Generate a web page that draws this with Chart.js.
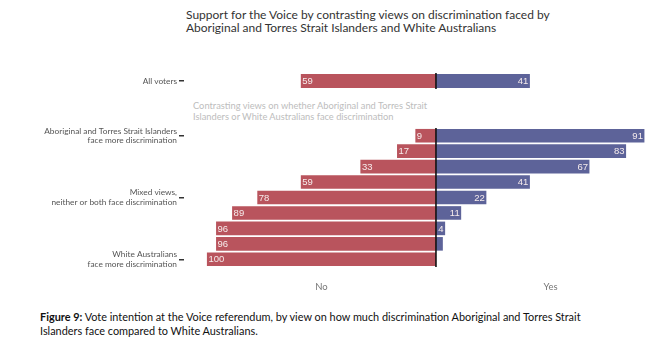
<!DOCTYPE html>
<html>
<head>
<meta charset="utf-8">
<script src="https://cdn.jsdelivr.net/npm/chart.js@4"></script>
<style>
    body { margin: 0; background: #fff; width: 651px; height: 353px; position: relative; overflow: hidden; font-family: Lato, sans-serif; }
    .title { position: absolute; left: 186px; top: 8px; font-size: 12px; line-height: 13px; color: #333; white-space: nowrap; }
    .subtitle { position: absolute; left: 193px; top: 101px; font-size: 9.3px; line-height: 10.5px; color: #bdbdbd; white-space: nowrap; }
    .caption { position: absolute; left: 40px; top: 310px; font-size: 10.9px; line-height: 14px; color: #111; white-space: nowrap; }
    .box { position: absolute; left: 0; width: 651px; }
    #allBox { top: 73px; height: 16px; }
    #mainBox { top: 120px; height: 173px; }
</style>
</head>
<body>
<div class="title">Support for the Voice by contrasting views on discrimination faced by<br>Aboriginal and Torres Strait Islanders and White Australians</div>
<div class="subtitle">Contrasting views on whether Aboriginal and Torres Strait<br>Islanders or White Australians face discrimination</div>
<div class="caption"><b>Figure 9:</b> Vote intention at the Voice referendum, by view on how much discrimination Aboriginal and Torres Strait<br>Islanders face compared to White Australians.</div>
<div class="box" id="allBox"><canvas id="allChart"></canvas></div>
<div class="box" id="mainBox"><canvas id="mainChart"></canvas></div>
<script>
const allLabels = ['All voters'];
const allNo = [59];
const allYes = [41];

const viewLabels = [
    ['Aboriginal and Torres Strait Islanders', 'face more discrimination'],
    '', '', '',
    ['Mixed views,', 'neither or both face discrimination'],
    '', '', '',
    ['White Australians', 'face more discrimination']
];
const viewNo = [9, 17, 33, 59, 78, 89, 96, 96, 100];
const viewYes = [91, 83, 67, 41, 22, 11, 4, 3, 0];

const xTickValues = [-50, 50];
const xTickLabels = ['No', 'Yes'];

const RED = '#b9545d';
const BLUE = '#5d6399';

// vertical line at 0 between No and Yes
const zeroLine = {
    id: 'zeroLine',
    afterDatasetsDraw(chart) {
        const { ctx, chartArea } = chart;
        const x = chart.scales.x.getPixelForValue(0);
        ctx.save();
        ctx.strokeStyle = '#111';
        ctx.lineWidth = 1.6;
        ctx.beginPath();
        ctx.moveTo(x, chartArea.top);
        ctx.lineTo(x, chartArea.bottom);
        ctx.stroke();
        ctx.restore();
    }
};

// value labels inside the outer end of each bar
const barLabels = {
    id: 'barLabels',
    afterDatasetsDraw(chart) {
        const ctx = chart.ctx;
        ctx.save();
        ctx.font = '9.5px "Liberation Sans", Arial, sans-serif';
        ctx.fillStyle = '#f6ecec';
        ctx.textBaseline = 'middle';
        chart.data.datasets.forEach((ds, i) => {
            chart.getDatasetMeta(i).data.forEach((bar, j) => {
                const v = Math.abs(ds.data[j]);
                if (v < 4) return;
                if (ds.data[j] < 0) {
                    ctx.textAlign = 'left';
                    ctx.fillText(v, bar.x + 1.5, bar.y + 0.5);
                } else {
                    ctx.textAlign = 'right';
                    ctx.fillText(v, bar.x - 1.5, bar.y + 0.5);
                }
            });
        });
        ctx.restore();
    }
};

function makeChart(id, labels, noVals, yesVals, showX, padTop) {
    new Chart(document.getElementById(id), {
        type: 'bar',
        data: {
            labels: labels,
            datasets: [
                { label: 'No', data: noVals.map(v => -v), backgroundColor: RED },
                { label: 'Yes', data: yesVals, backgroundColor: BLUE }
            ]
        },
        options: {
            indexAxis: 'y',
            responsive: true,
            maintainAspectRatio: false,
            animation: false,
            categoryPercentage: 1,
            barPercentage: 0.88,
            layout: { padding: { left: 0, right: 2, top: padTop, bottom: 0 } },
            plugins: {
                legend: { display: false },
                tooltip: { enabled: false }
            },
            scales: {
                x: {
                    stacked: true,
                    min: -110,
                    max: 93,
                    display: showX,
                    grid: { display: false, drawTicks: false },
                    border: { display: false },
                    afterBuildTicks: axis => {
                        axis.ticks = xTickValues.map(v => ({ value: v }));
                    },
                    afterFit: scale => {
                        scale.height = showX ? 26 : 0;
                        scale.paddingLeft = 0;
                        scale.paddingRight = 0;
                    },
                    ticks: {
                        padding: 14,
                        maxRotation: 0,
                        color: '#777',
                        font: { family: 'Lato', size: 9.5 },
                        callback: v => xTickLabels[xTickValues.indexOf(v)]
                    }
                },
                y: {
                    stacked: true,
                    afterFit: scale => {
                        scale.width = 184;
                        scale.paddingTop = 0;
                        scale.paddingBottom = 0;
                    },
                    border: { display: false },
                    grid: {
                        offset: false,
                        drawOnChartArea: false,
                        tickLength: 5,
                        lineWidth: 1.5,
                        color: c => (c.tick && c.tick.label && c.tick.label.length) ? '#333' : 'rgba(0,0,0,0)'
                    },
                    ticks: {
                        autoSkip: false,
                        padding: 2,
                        color: '#555',
                        font: { family: 'Lato', size: 8.3, lineHeight: 1.15 }
                    }
                }
            }
        },
        plugins: [zeroLine, barLabels]
    });
}

makeChart('allChart', allLabels, allNo, allYes, false, 0);
makeChart('mainChart', viewLabels, viewNo, viewYes, true, 8);
</script>
</body>
</html>
